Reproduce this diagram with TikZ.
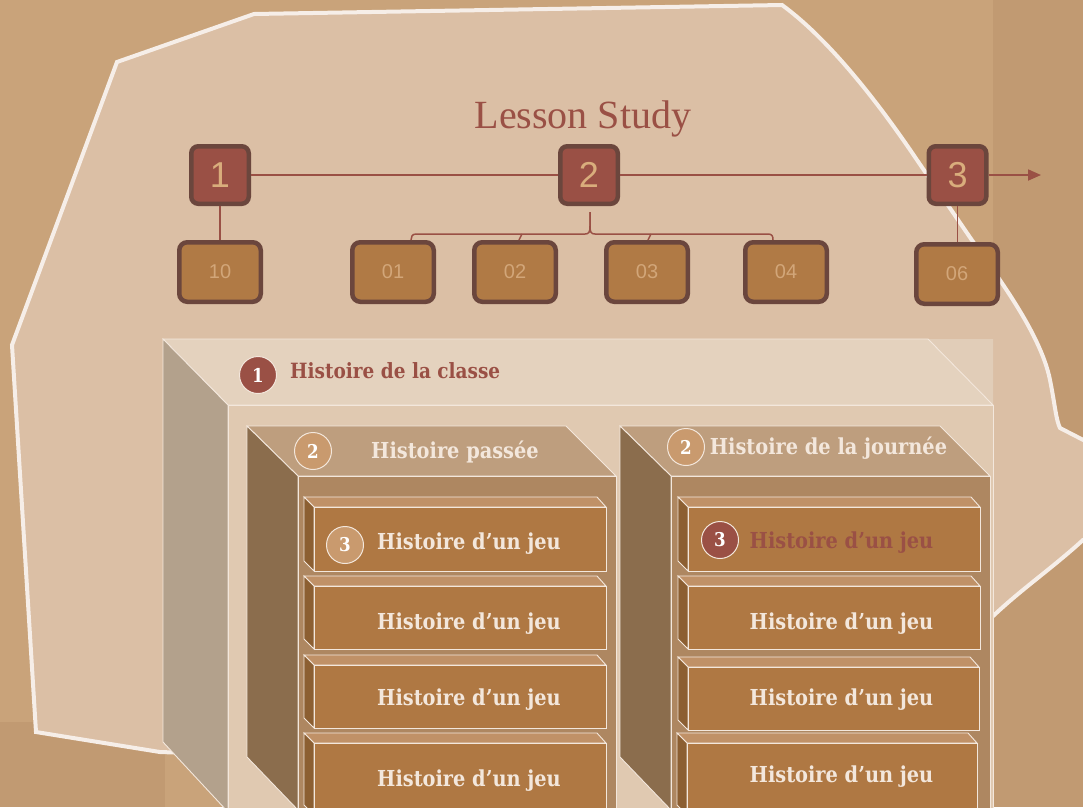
\documentclass[tikz,border=0pt]{standalone}
\usepackage{fontspec}
\usetikzlibrary{arrows.meta,calc}
\newfontfamily\serifT{Liberation Serif}
\newfontfamily\sansT{Liberation Sans}
\newfontfamily\mer[FakeStretch=0.88]{DejaVu Serif}
\definecolor{bgA}{HTML}{C9A37A}
\definecolor{bgB}{HTML}{C19A72}
\definecolor{blob}{HTML}{DBBFA5}
\definecolor{blobLine}{HTML}{F6EEE8}
\definecolor{cRed}{HTML}{9A5045}
\definecolor{cDark}{HTML}{6B463D}
\definecolor{cNum}{HTML}{D9AD7C}
\definecolor{cSmall}{HTML}{B07A45}
\definecolor{cSmallT}{HTML}{D2A679}
\definecolor{bTop}{HTML}{E4D2BE}
\definecolor{bTri}{HTML}{E1CDB8}
\definecolor{bFront}{HTML}{E0C9B1}
\definecolor{bSide}{HTML}{B3A18C}
\definecolor{cTop}{HTML}{BE9E7E}
\definecolor{cFront}{HTML}{AE8761}
\definecolor{cSide}{HTML}{8B6D4D}
\definecolor{dTop}{HTML}{C09167}
\definecolor{dFront}{HTML}{AF7843}
\definecolor{dSide}{HTML}{8C5F32}
\definecolor{cLight}{HTML}{F3E7DC}
\definecolor{cTan}{HTML}{C99A6E}
\tikzset{
  link/.style={draw=cRed, line width=1.8pt},
  bigbox/.style={rounded corners=7pt, fill=cRed, draw=cDark, line width=4.5pt, minimum width=57.5pt, minimum height=57.5pt, inner sep=0pt, text=cNum, font=\sansT\fontsize{36}{36}\selectfont},
  smallbox/.style={rounded corners=8pt, fill=cSmall, draw=cDark, line width=4.5pt, minimum width=81.5pt, minimum height=59.5pt, inner sep=0pt, text=cSmallT, font=\sansT\fontsize{20}{20}\selectfont},
  face/.style={draw=cLight, line width=0.9pt},
  lbl/.style={font=\mer\bfseries\fontsize{22}{22}\selectfont, text=cLight, inner sep=0pt, anchor=base},
  num/.style={circle, minimum size=37pt, inner sep=0pt, draw=cLight, line width=1pt, font=\mer\bfseries\fontsize{19}{19}\selectfont, text=white},
}
\newcommand\drawerbox[4]{% L, T, R, B
  \fill[dTop, face] (#1,#2) -- (#3-9,#2) -- (#3,#2+10) -- (#1+10,#2+10) -- cycle;
  \fill[dSide, face] (#1,#2) -- (#1+10,#2+10) -- (#1+10,#4) -- (#1,#4-10) -- cycle;
  \fill[dFront, face] (#1+10,#2+10) rectangle (#3,#4);
}
\begin{document}
\begin{tikzpicture}[x=1pt,y=-1pt]
\useasboundingbox (0,0) rectangle (1083,807);
\clip (0,0) rectangle (1083,807);
% background
\fill[bgA] (0,0) rectangle (1083,807);
\fill[bgB] (993,0) rectangle (1083,807);
\fill[bgB] (0,722) rectangle (165,807);
% blob
\filldraw[fill=blob, draw=blobLine, line width=4pt, line join=miter]
  (117,62) -- (254,14) -- (782,5)
  .. controls (830,40) and (880,105) .. (917,160) -- (967,233)
  .. controls (990,267) and (1040,330) .. (1050,380)
  .. controls (1055,405) and (1056,420) .. (1060,428)
  -- (1095,446) -- (1095,537) -- (1083,540)
  .. controls (1050,570) and (1020,590) .. (990,619)
  -- (980,780) -- (160,752) -- (36,732) -- (12,345) -- cycle;
% title
\node[font=\serifT\fontsize{40}{40}\selectfont, text=cRed, anchor=base] (title) at (583,128) {Lesson Study};
% timeline boxes
\node[bigbox] (b1) at (220,175) {1};
\node[bigbox] (b2) at (589,175) {2};
\node[bigbox] (b3) at (957.5,175) {3};
\node[smallbox] (s10) at (220,272) {10};
\node[smallbox] (s01) at (393,272) {01};
\node[smallbox] (s02) at (515,272) {02};
\node[smallbox] (s03) at (647,272) {03};
\node[smallbox] (s04) at (786,272) {04};
\node[smallbox] (s06) at (957,274) {06};
\coordinate (arrowend) at (1041,175);
\coordinate (bracetop) at (590,212);
\draw[link] (b1) -- (b2);
\draw[link] (b2) -- (b3);
\draw[link, -{Triangle[length=13pt,width=11pt]}] (b3.east) -- (arrowend);
\draw[link] (b1.south) -- (s10.north);
\draw[link] (b3.south) -- (s06.north -| b3.south);
\draw[link, line width=1.5pt] ($(s01.north)+(18,0)$) .. controls +(0,-3) and (412,234) .. (416,234)
  -- (585,234) .. controls (589,234) and (590,232) .. (590,226) -- (bracetop);
\draw[link, line width=1.5pt] (bracetop) -- (590,226) .. controls (590,232) and (591,234) .. (595,234)
  -- (768,234) .. controls (772,234) and (773,236) .. ($(s04.north)+(-13,0)$);
\draw[link, line width=1.5pt] ($(s02.north)+(4,0)$) -- (522,234);
\draw[link, line width=1.5pt] ($(s03.north)+(1,0)$) -- (651,234);
% big box
\fill[bTri] (928,339) -- (993,339) -- (993,405) -- cycle;
\fill[bTop, face] (163,339) -- (928,339) -- (993,405) -- (228,405) -- cycle;
\fill[bSide, face] (163,339) -- (228,405) -- (228,812) -- (163,742) -- cycle;
\fill[bFront, face] (228,405) rectangle (993,812);
% column 1
\fill[cTop, face] (247,426) -- (566,426) -- (616,476) -- (298,476) -- cycle;
\fill[cSide, face] (247,426) -- (298,476) -- (298,810) -- (247,757) -- cycle;
\fill[cFront, face] (298,476) rectangle (616,812);
% column 2
\fill[cTop, face] (620,426) -- (940,426) -- (990,476) -- (671,476) -- cycle;
\fill[cSide, face] (620,426) -- (671,476) -- (671,810) -- (620,757) -- cycle;
\fill[cFront, face] (671,476) rectangle (990,812);
% drawers
\drawerbox{304}{497}{606}{571}
\drawerbox{304}{576}{606}{649}
\drawerbox{304}{655}{606}{728}
\drawerbox{304}{733}{606}{815}
\drawerbox{678}{497}{980}{571}
\drawerbox{678}{576}{980}{649}
\drawerbox{678}{657}{979}{730}
\drawerbox{677}{733}{977}{815}
% labels
\node[num, fill=cRed] (n1) at (258,375) {1};
\node[lbl, anchor=base west, text=cRed, font=\mer\bfseries\fontsize{21}{21}\selectfont] (t1) at (290,378) {Histoire de la classe};
\node[num, fill=cTan] (n2a) at (313,451) {2};
\node[lbl] (t2a) at (455,458) {Histoire passée};
\node[num, fill=cTan] (n2b) at (686,447) {2};
\node[lbl] (t2b) at (828.5,454) {Histoire de la journée};
\node[num, fill=cTan] (n3a) at (345,545) {3};
\node[lbl] (j1) at (469,549) {Histoire d’un jeu};
\node[lbl] (j2) at (469,629) {Histoire d’un jeu};
\node[lbl] (j3) at (469,705) {Histoire d’un jeu};
\node[lbl] (j4) at (469,786) {Histoire d’un jeu};
\node[num, fill=cRed] (n3b) at (720,540) {3};
\node[lbl, text=cRed] (k1) at (841.5,548) {Histoire d’un jeu};
\node[lbl] (k2) at (841.5,629) {Histoire d’un jeu};
\node[lbl] (k3) at (841.5,705) {Histoire d’un jeu};
\node[lbl] (k4) at (841.5,782) {Histoire d’un jeu};
\end{tikzpicture}
\end{document}
